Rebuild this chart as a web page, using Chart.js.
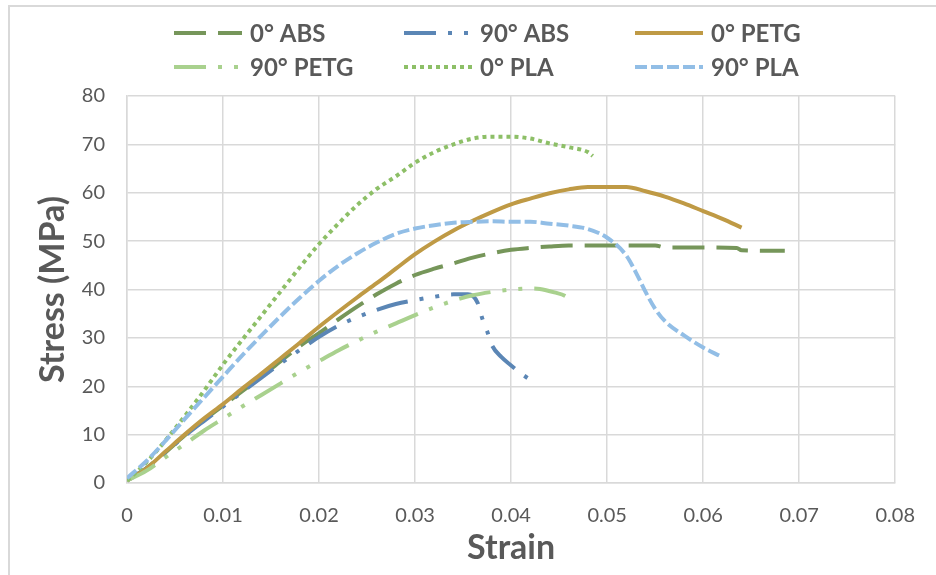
<!DOCTYPE html>
<html>
<head>
<meta charset="utf-8">
<script src="https://cdn.jsdelivr.net/npm/chart.js@4"></script>
<style>
  html, body { margin: 0; padding: 0; background: #fff; }
  #wrap { width: 936px; height: 575px; }
</style>
</head>
<body>
<div id="wrap"><canvas id="chart" width="936" height="575"></canvas></div>
<script>
// series names and tick labels
const seriesNames = ['0° ABS', '90° ABS', '0° PETG', '90° PETG', '0° PLA', '90° PLA'];
const strainTicks = [0, 0.01, 0.02, 0.03, 0.04, 0.05, 0.06, 0.07, 0.08];
const stressTicks = [0, 10, 20, 30, 40, 50, 60, 70, 80];

// 0° ABS
const abs0Strain = [0, 0.002, 0.004, 0.006, 0.008, 0.01, 0.012, 0.014, 0.016, 0.018, 0.02, 0.022, 0.024, 0.026, 0.028, 0.03, 0.032, 0.034, 0.036, 0.038, 0.04, 0.042, 0.044, 0.046, 0.05, 0.055, 0.056, 0.06, 0.0635, 0.064, 0.0685];
const abs0Stress = [0.5, 3, 6.3, 9.8, 13, 16, 19, 22, 25.2, 28.3, 31, 33.8, 36.5, 39, 41.2, 43, 44.3, 45.4, 46.6, 47.5, 48.2, 48.6, 48.9, 49.1, 49.1, 49.1, 48.7, 48.7, 48.6, 48.1, 48];

// 90° ABS
const abs90Strain = [0, 0.002, 0.004, 0.006, 0.008, 0.01, 0.012, 0.014, 0.016, 0.018, 0.02, 0.022, 0.024, 0.026, 0.028, 0.03, 0.032, 0.034, 0.0355, 0.0365, 0.037, 0.0375, 0.038, 0.039, 0.04, 0.041, 0.042];
const abs90Stress = [0.5, 3, 6.3, 9.7, 12.8, 15.8, 18.8, 21.8, 24.7, 27.5, 30.2, 32.5, 34.3, 35.8, 37, 37.8, 38.5, 39, 39, 37.3, 34, 31.4, 28.5, 26, 24.3, 22.7, 21.3];

// 0° PETG
const petg0Strain = [0, 0.002, 0.004, 0.006, 0.008, 0.01, 0.012, 0.014, 0.016, 0.018, 0.02, 0.022, 0.024, 0.026, 0.028, 0.03, 0.032, 0.034, 0.036, 0.038, 0.04, 0.042, 0.044, 0.046, 0.048, 0.05, 0.052, 0.054, 0.056, 0.058, 0.06, 0.062, 0.064];
const petg0Stress = [0.5, 3, 6.5, 10, 13.3, 16.3, 19.5, 22.6, 25.8, 29, 32.3, 35.4, 38.4, 41.3, 44.3, 47.3, 49.9, 52.2, 54.2, 56, 57.6, 58.8, 59.9, 60.7, 61.2, 61.2, 61.2, 60.3, 59.2, 57.8, 56.2, 54.6, 52.8];

// 90° PETG
const petg90Strain = [0, 0.002, 0.004, 0.006, 0.008, 0.01, 0.012, 0.014, 0.016, 0.018, 0.02, 0.022, 0.024, 0.026, 0.028, 0.03, 0.032, 0.034, 0.036, 0.038, 0.04, 0.042, 0.043, 0.0445, 0.0457, 0.0465];
const petg90Stress = [0.5, 2.5, 5.3, 8, 10.8, 13.3, 15.8, 18.2, 20.6, 23, 25.2, 27.4, 29.4, 31.3, 33, 34.7, 36.3, 37.7, 38.8, 39.5, 40, 40.2, 40.1, 39.4, 38.6, 37.2];

// 0° PLA
const pla0Strain = [0, 0.002, 0.004, 0.006, 0.008, 0.01, 0.012, 0.014, 0.016, 0.018, 0.02, 0.022, 0.024, 0.026, 0.028, 0.03, 0.032, 0.034, 0.036, 0.038, 0.04, 0.042, 0.044, 0.046, 0.048, 0.0485];
const pla0Stress = [0.5, 4.2, 8.8, 13.8, 19, 24.5, 29.6, 34.6, 39.6, 44.6, 49.4, 53.6, 57.5, 60.8, 63.4, 66.2, 68.4, 70, 71.2, 71.6, 71.6, 71.2, 70.2, 69.4, 68.4, 67.6];

// 90° PLA
const pla90Strain = [0, 0.002, 0.004, 0.006, 0.008, 0.01, 0.012, 0.014, 0.016, 0.018, 0.02, 0.022, 0.024, 0.026, 0.028, 0.03, 0.032, 0.034, 0.036, 0.038, 0.04, 0.042, 0.044, 0.046, 0.048, 0.05, 0.052, 0.053, 0.054, 0.055, 0.056, 0.058, 0.06, 0.0617];
const pla90Stress = [1, 4.5, 8.7, 13.2, 17.6, 22, 26.4, 30.5, 34.5, 38.3, 41.8, 44.9, 47.5, 49.7, 51.5, 52.6, 53.3, 53.8, 54, 54.1, 54, 54, 53.6, 53.2, 52.5, 50.7, 47, 43.5, 39.5, 36, 33.5, 30.5, 28, 26.3];

const colors = ['#76965a', '#5b86b5', '#bf9a45', '#a9d18e', '#8dbf67', '#92bee6'];
const dashes = [[32, 12], [32, 12, 4, 12, 4, 12], [], [32, 12, 4, 12, 4, 12], [4, 4], [12, 4]];
const xs = [abs0Strain, abs90Strain, petg0Strain, petg90Strain, pla0Strain, pla90Strain];
const ys = [abs0Stress, abs90Stress, petg0Stress, petg90Stress, pla0Stress, pla90Stress];

const textColor = '#595959';
const gridColor = '#d9d9d9';

const datasets = seriesNames.map((name, i) => ({
  label: name,
  data: xs[i].map((x, j) => ({ x: x, y: ys[i][j] })),
  borderColor: colors[i],
  backgroundColor: colors[i],
  borderWidth: 4,
  borderDash: dashes[i],
  borderCapStyle: 'butt',
  pointRadius: 0,
  fill: false,
  cubicInterpolationMode: 'monotone',
  order: seriesNames.length - i
}));

// chart frame + legend in three columns, two rows
const framePlugin = {
  id: 'frame',
  beforeDraw(chart) {
    const ctx = chart.ctx;
    ctx.save();
    ctx.fillStyle = '#fff';
    ctx.fillRect(0, 0, chart.width, chart.height);
    ctx.strokeStyle = gridColor;
    ctx.lineWidth = 2;
    ctx.strokeRect(9, 6, chart.width + 10, chart.height + 10);
    ctx.restore();
  },
  afterDraw(chart) {
    const ctx = chart.ctx;
    const colX = [174, 404, 635];
    const rowY = [33, 67];
    ctx.save();
    ctx.font = 'bold 24px Lato';
    ctx.textBaseline = 'middle';
    ctx.fillStyle = textColor;
    seriesNames.forEach((name, i) => {
      const x = colX[i % 3];
      const y = rowY[Math.floor(i / 3)];
      ctx.strokeStyle = colors[i];
      ctx.lineWidth = 4;
      ctx.lineCap = 'butt';
      ctx.setLineDash(dashes[i]);
      ctx.beginPath();
      ctx.moveTo(x, y);
      ctx.lineTo(x + 68, y);
      ctx.stroke();
      ctx.setLineDash([]);
      ctx.fillText(name, x + 76, y + 1);
    });
    ctx.restore();
  }
};

const ctx = document.getElementById('chart').getContext('2d');
new Chart(ctx, {
  type: 'line',
  data: { datasets: datasets },
  plugins: [framePlugin],
  options: {
    responsive: false,
    animation: false,
    layout: { padding: { top: 96, right: 34, left: 0, bottom: 0 } },
    plugins: {
      legend: { display: false },
      tooltip: { enabled: false }
    },
    scales: {
      x: {
        type: 'linear',
        min: strainTicks[0],
        max: strainTicks[strainTicks.length - 1],
        afterBuildTicks: scale => { scale.ticks = strainTicks.map(v => ({ value: v })); },
        afterFit: scale => { scale.height = 92; },
        ticks: {
          color: textColor,
          font: { family: 'Lato', size: 20 },
          padding: 21,
          maxRotation: 0,
          callback: v => v === 0 ? '0' : v.toFixed(2)
        },
        grid: { color: gridColor, lineWidth: 1.5, drawTicks: false },
        border: { color: gridColor, width: 1.5 },
        title: {
          display: true,
          text: 'Strain',
          color: textColor,
          font: { family: 'Lato', size: 34, weight: 'bold' },
          padding: { top: 0, bottom: 7 }
        }
      },
      y: {
        min: stressTicks[0],
        max: stressTicks[stressTicks.length - 1],
        afterBuildTicks: scale => { scale.ticks = stressTicks.map(v => ({ value: v })); },
        afterFit: scale => { scale.width = 127; },
        ticks: {
          color: textColor,
          font: { family: 'Lato', size: 20 },
          padding: 22
        },
        grid: { color: gridColor, lineWidth: 1.5, drawTicks: false },
        border: { color: gridColor, width: 1.5 },
        title: {
          display: true,
          text: 'Stress (MPa)',
          color: textColor,
          font: { family: 'Lato', size: 34, weight: 'bold' },
          padding: { top: 33, bottom: 0 }
        }
      }
    }
  }
});
</script>
</body>
</html>
